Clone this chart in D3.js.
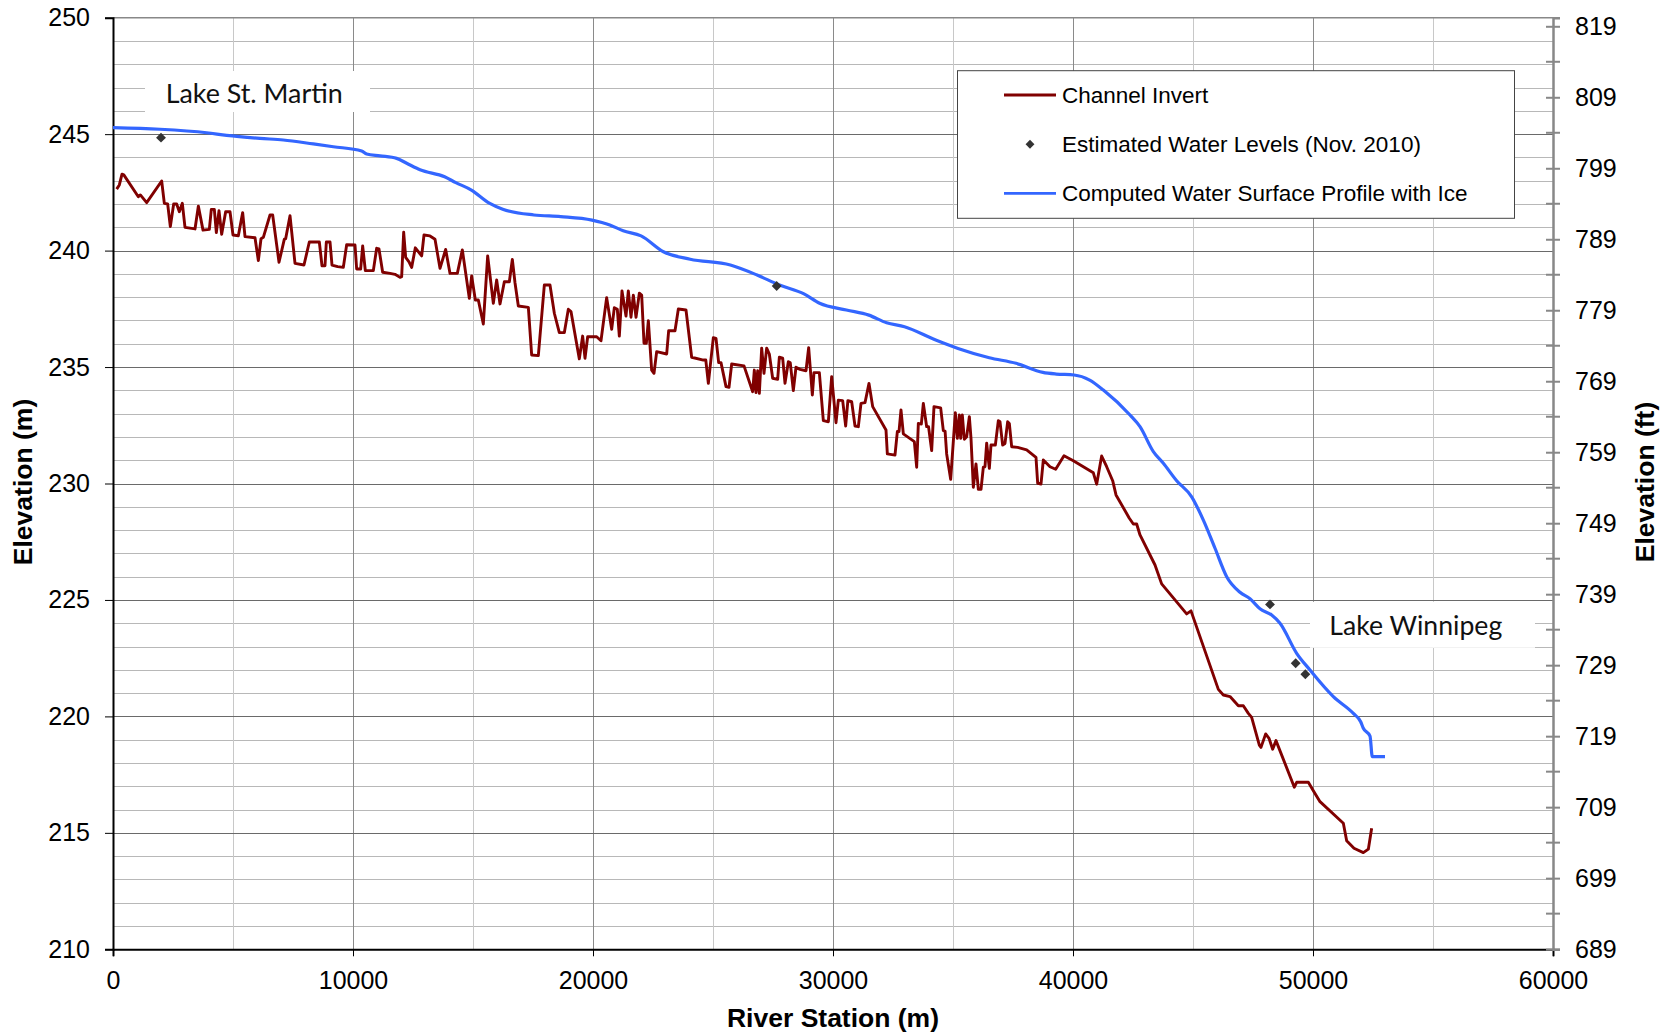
<!DOCTYPE html>
<html><head><meta charset="utf-8">
<script src="https://cdn.jsdelivr.net/npm/d3@7"></script>
<style>
html,body{margin:0;padding:0;background:#fff;}
svg{display:block;}
</style></head>
<body>
<svg id="chart" width="1669" height="1036"></svg>
<script>
// ---------- DATA ----------
const invertStation = [153,264,375,450,1055,1140,1403,2028,2139,2278,2389,2528,2653,2764,2889,3000,3417,3556,3750,4014,4097,4222,4306,4417,4528,4694,4875,5000,5222,5403,5500,5917,6056,6167,6264,6542,6653,6917,7139,7194,7375,7583,7958,8180,8597,8708,8833,8889,9042,9125,9361,9597,9736,10083,10153,10319,10403,10514,10847,10986,11083,11236,11542,11750,11958,12028,12111,12194,12333,12444,12597,12861,12958,13208,13417,13625,13861,14042,14347,14556,14847,14944,15097,15222,15430,15611,15847,15986,16125,16306,16514,16639,16750,16889,17306,17444,17722,17972,18208,18389,18597,18806,18972,19083,19430,19569,19667,19778,20153,20333,20569,20778,20889,21014,21097,21208,21375,21472,21583,21681,21792,21931,22028,22125,22222,22306,22444,22542,22653,23069,23153,23417,23556,23875,24111,24597,24700,24806,25014,25125,25236,25333,25542,25667,25778,26292,26653,26722,26792,26861,26931,27028,27125,27236,27347,27486,27694,27764,27903,28000,28139,28220,28347,28458,28625,28875,28986,29139,29208,29431,29597,29806,29944,30125,30222,30403,30528,30620,30778,30917,31056,31167,31333,31500,31653,32208,32264,32583,32681,32750,32833,32931,33389,33486,33556,33680,33764,33903,33980,34111,34208,34486,34597,34670,34736,34903,35097,35181,35264,35319,35389,35472,35569,35681,35750,35847,35958,36056,36167,36264,36333,36403,36514,36583,36764,36889,36958,37069,37167,37278,37347,37444,37694,38069,38458,38528,38667,38764,39042,39278,39625,40014,40847,40986,41194,41403,41653,41792,42347,42514,42653,42792,43417,43694,44736,44917,46056,46264,46542,46889,47097,47306,47444,47764,47833,48028,48167,48319,48458,49222,49319,49806,50014,50292,51264,51403,51708,52097,52306,52444];
const invertElev = [242.64,242.82,243.28,243.25,242.31,242.39,242.06,242.99,242.03,242.0,241.03,242.0,242.0,241.67,242.03,241.0,240.93,241.91,240.88,240.91,241.77,241.77,240.77,241.71,240.70,241.67,241.67,240.67,240.64,241.63,240.60,240.55,239.57,240.51,240.57,241.53,241.53,239.50,240.49,240.51,241.50,239.45,239.38,240.37,240.37,239.35,239.35,240.37,240.37,239.38,239.31,239.28,240.25,240.24,239.21,239.21,240.20,239.14,239.14,240.10,240.07,239.07,239.02,238.98,238.85,238.88,240.79,239.71,239.52,239.28,240.12,239.77,240.67,240.63,240.49,239.24,240.05,239.02,239.02,240.03,237.95,238.91,237.88,237.88,236.85,239.77,237.74,238.74,237.71,238.66,238.66,239.62,238.62,237.62,237.56,235.52,235.49,238.52,238.52,237.31,236.48,236.48,237.48,237.38,235.35,236.33,235.38,236.30,236.30,236.13,237.98,236.62,237.55,237.48,236.33,238.27,237.19,238.27,237.14,238.09,237.14,238.17,238.09,236.02,236.02,236.99,234.87,234.73,235.66,235.56,236.56,236.56,237.49,237.45,235.42,235.30,235.30,234.30,236.26,236.23,235.19,235.19,234.16,234.13,235.13,235.05,233.94,234.87,233.90,234.84,233.87,235.81,234.73,235.81,235.56,234.52,234.47,235.42,235.38,234.30,235.23,235.18,233.99,234.99,234.90,234.84,235.83,233.80,234.76,234.76,232.70,232.65,234.59,232.61,233.58,233.56,232.47,233.56,233.51,232.47,232.44,233.44,233.47,234.30,233.30,232.30,231.27,231.22,232.23,232.23,233.16,232.13,231.80,230.70,232.58,232.55,233.44,232.44,232.44,231.41,233.30,233.25,232.27,232.25,231.27,230.18,233.04,231.94,232.94,231.94,232.94,231.90,232.01,232.87,231.94,229.84,230.84,229.75,229.75,230.70,230.72,231.73,230.65,231.65,231.65,232.70,232.65,231.65,231.72,232.65,232.58,231.58,231.55,231.44,231.12,230.01,229.98,231.01,230.72,230.61,231.19,230.98,230.46,229.97,231.18,230.72,230.12,229.51,228.51,228.26,228.26,227.79,226.50,225.69,224.40,224.53,221.16,220.92,220.85,220.46,220.46,220.13,219.96,218.77,218.67,219.25,219.06,218.59,218.96,216.96,217.17,217.17,216.81,216.34,215.41,214.66,214.34,214.15,214.30,215.20];

const wsStation = [0,1958,3903,4736,6125,7097,8347,9181,10361,10569,11125,11819,12236,12792,13817,14283,14933,15679,16238,17538,18654,19958,20700,21258,22004,22933,24050,25725,26838,27771,28792,29442,30558,31492,32233,32979,34279,35208,36513,37629,38746,39304,40046,40696,41264,42375,42792,43347,43764,44319,44944,45431,45917,46403,46958,47375,47792,48278,48625,49319,49875,50847,51681,51986,52097,52375,52472,53000];
const wsElev = [245.28,245.21,245.06,244.95,244.82,244.75,244.58,244.46,244.28,244.15,244.07,243.96,243.75,243.47,243.17,242.92,242.60,242.04,241.78,241.53,241.46,241.31,241.10,240.85,240.63,239.95,239.63,239.38,238.95,238.52,238.14,237.74,237.45,237.23,236.90,236.73,236.16,235.80,235.40,235.16,234.77,234.70,234.66,234.44,234.01,232.94,232.44,231.37,230.87,230.12,229.43,228.43,227.22,226.00,225.33,225.05,224.62,224.35,224.00,222.71,221.99,220.85,220.13,219.77,219.49,219.15,218.27,218.27];

const obsStation = [2000,27653,48208,49278,49681];
const obsElev = [244.85,238.48,224.81,222.28,221.81];

const xTicks = [0,10000,20000,30000,40000,50000,60000];
const yTicks = [210,215,220,225,230,235,240,245,250];
const ftTicks = [689,699,709,719,729,739,749,759,769,779,789,799,809,819];

const seriesNames = ["Channel Invert","Estimated Water Levels (Nov. 2010)","Computed Water Surface Profile with Ice"];
const annotationText = ["Lake St. Martin","Lake Winnipeg"];
const annotationStation = [2196,50679];
const annotationElev = [246.35,223.49];

// ---------- CHART ----------
const svg = d3.select("#chart");
const L = 113, R = 1553, T = 17.7, B = 949.3;
const x = d3.scaleLinear().domain([0,60000]).range([L,R]);
const y = d3.scaleLinear().domain([210,250]).range([B,T]);
const yFt = d3.scaleLinear().domain([210/0.3048,250/0.3048]).range([B,T]);

const grid = svg.append("g");
grid.selectAll("line.hmin").data(d3.range(211,250).filter(v=>v%5!==0)).join("line")
  .attr("x1",L).attr("x2",R).attr("y1",d=>Math.round(y(d))+0.5).attr("y2",d=>Math.round(y(d))+0.5)
  .attr("stroke","#b8b8b8").attr("stroke-width",1);
grid.selectAll("line.vmin").data([5000,15000,25000,35000,45000,55000]).join("line")
  .attr("x1",d=>Math.round(x(d))+0.5).attr("x2",d=>Math.round(x(d))+0.5).attr("y1",T).attr("y2",B)
  .attr("stroke","#c8c8c8").attr("stroke-width",1);
grid.selectAll("line.vmaj").data([10000,20000,30000,40000,50000]).join("line")
  .attr("x1",d=>Math.round(x(d))+0.5).attr("x2",d=>Math.round(x(d))+0.5).attr("y1",T).attr("y2",B)
  .attr("stroke","#8a8a8a").attr("stroke-width",1);
grid.selectAll("line.hmaj").data([215,220,225,230,235,240,245]).join("line")
  .attr("x1",L).attr("x2",R).attr("y1",d=>Math.round(y(d))+0.5).attr("y2",d=>Math.round(y(d))+0.5)
  .attr("stroke","#6a6a6a").attr("stroke-width",1);
svg.append("line").attr("x1",L).attr("x2",R).attr("y1",T).attr("y2",T).attr("stroke","#888").attr("stroke-width",1.5);

// annotation boxes (white background hides gridlines)
const annG = svg.append("g");
const annBox = [[-20.7,-31.7,225,41],[-19.3,-33.3,225,46]];
const annLen = [177,173];
annotationText.forEach((t,i)=>{
  const tx = x(annotationStation[i]), ty = y(annotationElev[i]);
  const b = annBox[i];
  annG.append("rect").attr("x",tx+b[0]).attr("y",ty+b[1]).attr("width",b[2]).attr("height",b[3]).attr("fill","#fff");
  annG.append("text").attr("x",tx).attr("y",ty).text(t)
    .attr("font-family","Lato, 'Open Sans', sans-serif").attr("font-size",27.5).attr("fill","#111")
    .attr("textLength",annLen[i]).attr("lengthAdjust","spacingAndGlyphs");
});

// axes
const font = "'Liberation Sans', Arial, sans-serif";
const xAxis = d3.axisBottom(x).tickValues(xTicks).tickSize(7).tickPadding(15).tickFormat(d3.format("d"));
const gx = svg.append("g").attr("transform",`translate(0,${B})`).call(xAxis);
gx.select(".domain").attr("stroke","#000").attr("stroke-width",2);
gx.selectAll(".tick line").attr("stroke","#000").attr("stroke-width",1);
gx.selectAll("text").attr("font-family",font).attr("font-size",25).attr("fill","#000");

const yAxis = d3.axisLeft(y).tickValues(yTicks).tickSize(8).tickPadding(15).tickFormat(d3.format("d"));
const gy = svg.append("g").attr("transform",`translate(${L},0)`).call(yAxis);
gy.select(".domain").attr("stroke","#000").attr("stroke-width",2);
gy.selectAll(".tick line").attr("stroke","#000").attr("stroke-width",1);
gy.selectAll("text").attr("font-family",font).attr("font-size",25).attr("fill","#000");

const yAxisR = d3.axisRight(yFt).tickValues(ftTicks).tickSize(7).tickPadding(15).tickFormat(d3.format("d"));
const gr = svg.append("g").attr("transform",`translate(${R},0)`).call(yAxisR);
gr.select(".domain").attr("stroke","#888").attr("stroke-width",2.5);
gr.selectAll(".tick line").attr("stroke","#888").attr("stroke-width",2).attr("x1",-7);
gr.selectAll("text").attr("font-family",font).attr("font-size",25).attr("fill","#000");
gr.selectAll("line.minor").data(d3.range(694,820,10)).join("line")
  .attr("x1",-7).attr("x2",7).attr("y1",d=>yFt(d)).attr("y2",d=>yFt(d))
  .attr("stroke","#888").attr("stroke-width",2);

// axis titles
svg.append("text").attr("transform","translate(32,482) rotate(-90)").attr("text-anchor","middle")
  .attr("font-family",font).attr("font-weight","bold").attr("font-size",26.5).text("Elevation (m)");
svg.append("text").attr("transform","translate(1654,482) rotate(-90)").attr("text-anchor","middle")
  .attr("font-family",font).attr("font-weight","bold").attr("font-size",26.5).text("Elevation (ft)");
svg.append("text").attr("x",833).attr("y",1027).attr("text-anchor","middle")
  .attr("font-family",font).attr("font-weight","bold").attr("font-size",26.5).text("River Station (m)");

// series
const invert = invertStation.map((s,i)=>[s,invertElev[i]]);
const ws = wsStation.map((s,i)=>[s,wsElev[i]]);
const obs = obsStation.map((s,i)=>[s,obsElev[i]]);
const line = d3.line().x(d=>x(d[0])).y(d=>y(d[1]));

svg.append("path").datum(invert).attr("d",line).attr("fill","none")
  .attr("stroke","#800000").attr("stroke-width",2.9).attr("stroke-linejoin","round");
svg.append("path").datum(ws).attr("d",d3.line().x(d=>x(d[0])).y(d=>y(d[1])).curve(d3.curveMonotoneX)).attr("fill","none")
  .attr("stroke","#3366ff").attr("stroke-width",3.2).attr("stroke-linejoin","round");
const diamond = d3.symbol().type(d3.symbolDiamond2).size(62);
svg.append("g").selectAll("path").data(obs).join("path")
  .attr("d",diamond).attr("transform",d=>`translate(${x(d[0])},${y(d[1])})`)
  .attr("fill","#333");

// legend
const lg = svg.append("g");
lg.append("rect").attr("x",957.5).attr("y",70.7).attr("width",557).attr("height",147.6)
  .attr("fill","#fff").attr("stroke","#444").attr("stroke-width",1);
const rows = [95,144.3,193.3];
seriesNames.forEach((n,i)=>{
  const ry = rows[i];
  if(i===1){
    lg.append("path").attr("d",d3.symbol().type(d3.symbolDiamond2).size(50)).attr("transform",`translate(1030,${ry})`).attr("fill","#333");
  } else {
    lg.append("line").attr("x1",1004).attr("x2",1056).attr("y1",ry).attr("y2",ry)
      .attr("stroke",i===0?"#800000":"#3366ff").attr("stroke-width",2.8);
  }
  lg.append("text").attr("x",1062).attr("y",ry+8).text(n)
    .attr("font-family",font).attr("font-size",22.5).attr("fill","#000");
});
</script>
</body></html>
